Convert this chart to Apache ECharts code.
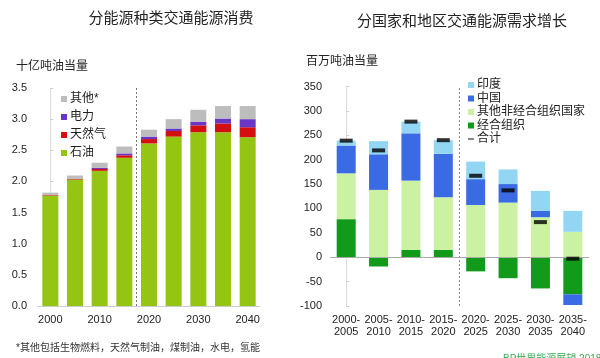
<!DOCTYPE html>
<html>
<head>
<meta charset="utf-8">
<script src="https://cdn.jsdelivr.net/npm/echarts@6/dist/echarts.min.js"></script>
<style>html,body{margin:0;padding:0;background:#fff}#c{width:600px;height:358px}</style>
</head>
<body>
<div id="c"></div>
<script>
// Left chart: transport energy consumption by fuel (billion toe)
const years = ['2000','2005','2010','2015','2020','2025','2030','2035','2040'];
const oil   = [1.77, 2.03, 2.17, 2.38, 2.61, 2.72, 2.79, 2.79, 2.71];
const gas   = [0.01, 0.01, 0.03, 0.04, 0.07, 0.09, 0.11, 0.14, 0.16];
const power = [0.00, 0.005, 0.02, 0.03, 0.04, 0.04, 0.06, 0.08, 0.13];
const other = [0.04, 0.05, 0.08, 0.11, 0.11, 0.15, 0.19, 0.20, 0.21];

// Right chart: transport energy demand growth by region (Mtoe)
const periods = ['2000-\n2005','2005-\n2010','2010-\n2015','2015-\n2020','2020-\n2025','2025-\n2030','2030-\n2035','2035-\n2040'];
const oecd     = [78, -19, 15, 15, -29, -43, -64, -76];
const nonOecd  = [94, 138, 142, 108, 107, 112, 82, 52];
const china    = [57, 73, 97, 89, 53, 38, 13, -22];
const india    = [10, 27, 24, 28, 36, 30, 41, 43];
const total    = [239, 219, 278, 240, 167, 137, 72, -3];

const FONT = '"Liberation Sans", "Noto Sans CJK SC", sans-serif';
const chart = echarts.init(document.getElementById('c'));
const txt = {color:'#222', fontFamily: FONT};

chart.setOption({
  animation: false,
  textStyle: {fontFamily: FONT},
  title: [
    {text:'分能源种类交通能源消费', left:166, top:6, textAlign:'center', textStyle:{...txt, fontSize:15, fontWeight:'normal'}},
    {text:'分国家和地区交通能源需求增长', left:457, top:9, textAlign:'center', textStyle:{...txt, fontSize:15, fontWeight:'normal'}},
    {text:'十亿吨油当量', left:11, top:56, textStyle:{...txt, fontSize:12, fontWeight:'normal'}},
    {text:'百万吨油当量', left:301, top:51, textStyle:{...txt, fontSize:12, fontWeight:'normal'}},
    {text:'*其他包括生物燃料，天然气制油，煤制油，水电，氢能', left:11, top:338, textStyle:{...txt, fontSize:10, fontWeight:'normal', color:'#333'}},
    {text:'BP世界能源展望 2018年版', left:498, top:349, textStyle:{fontFamily:FONT, fontSize:10, fontWeight:'normal', color:'#3aaa55'}}
  ],
  legend: [
    {orient:'vertical', left:56, top:88, itemWidth:6, itemHeight:6, itemGap:6,
     icon:'rect', data:['其他*','电力','天然气','石油'],
     textStyle:{...txt, fontSize:12, padding:[0,0,0,-2]}},
    {orient:'vertical', left:463, top:74, itemWidth:6, itemHeight:6, itemGap:1.5,
     data:[{name:'印度',icon:'rect'},{name:'中国',icon:'rect'},{name:'其他非经合组织国家',icon:'rect'},{name:'经合组织',icon:'rect'},{name:'合计',icon:'path://M0,4H10V6H0Z'}],
     textStyle:{...txt, fontSize:12, padding:[0,0,0,-2]}}
  ],
  grid: [
    {left:38, top:88, width:222, height:218},
    {left:330, top:86.5, width:259, height:219.5}
  ],
  xAxis: [
    {type:'category', gridIndex:0, data:years,
     axisLine:{lineStyle:{color:'#cccccc'}}, axisTick:{show:false},
     axisLabel:{interval:1, color:'#222', fontSize:11, margin:8}},
    {type:'value', gridIndex:0, min:-0.5, max:8.5, show:false},
    {type:'category', gridIndex:1, data:periods, position:'bottom',
     axisLine:{show:false, onZero:false}, axisTick:{show:false},
     axisLabel:{interval:0, hideOverlap:false, color:'#222', fontSize:11, margin:8, lineHeight:12}},
    {type:'value', gridIndex:1, min:-0.5, max:7.5, show:false}
  ],
  yAxis: [
    {type:'value', gridIndex:0, min:0, max:3.5, interval:0.5,
     axisLine:{show:true, lineStyle:{color:'#dddddd'}},
     axisTick:{show:true, inside:true, length:3, lineStyle:{color:'#cccccc'}},
     splitLine:{show:false},
     axisLabel:{color:'#222', fontSize:11, margin:11, formatter:v=>v.toFixed(1)}},
    {type:'value', gridIndex:1, min:-100, max:350, interval:50,
     axisLine:{show:true, lineStyle:{color:'#dddddd'}},
     axisTick:{show:true, inside:true, length:3, lineStyle:{color:'#cccccc'}},
     splitLine:{show:false},
     axisLabel:{color:'#222', fontSize:11, margin:8}}
  ],
  series: [
    {name:'石油', type:'bar', stack:'L', xAxisIndex:0, yAxisIndex:0, data:oil, barWidth:16, itemStyle:{color:'#95c513'}},
    {name:'天然气', type:'bar', stack:'L', xAxisIndex:0, yAxisIndex:0, data:gas, barWidth:16, itemStyle:{color:'#d30f0f'}},
    {name:'电力', type:'bar', stack:'L', xAxisIndex:0, yAxisIndex:0, data:power, barWidth:16, itemStyle:{color:'#6a36c6'}},
    {name:'其他*', type:'bar', stack:'L', xAxisIndex:0, yAxisIndex:0, data:other, barWidth:16, itemStyle:{color:'#bdbdbd'}},
    {name:'guideL', type:'line', xAxisIndex:1, yAxisIndex:0, data:[], silent:true,
     markLine:{symbol:['none','none'], silent:true, label:{show:false},
       lineStyle:{color:'#777', type:[2,2], width:1},
       data:[{xAxis:3.5}]}},

    {name:'经合组织', type:'bar', stack:'R', xAxisIndex:2, yAxisIndex:1, data:oecd, barWidth:19, itemStyle:{color:'#129a1a'}},
    {name:'其他非经合组织国家', type:'bar', stack:'R', xAxisIndex:2, yAxisIndex:1, data:nonOecd, barWidth:19, itemStyle:{color:'#caf2a2'}},
    {name:'中国', type:'bar', stack:'R', xAxisIndex:2, yAxisIndex:1, data:china, barWidth:19, itemStyle:{color:'#3a6be2'}},
    {name:'印度', type:'bar', stack:'R', xAxisIndex:2, yAxisIndex:1, data:india, barWidth:19, itemStyle:{color:'#93d6f3'}},
    {name:'合计', type:'scatter', xAxisIndex:2, yAxisIndex:1, data:total, symbol:'rect', symbolSize:[13,4], z:5, itemStyle:{color:'#000'}},
    {name:'guideR', type:'line', xAxisIndex:3, yAxisIndex:1, data:[], silent:true,
     markLine:{symbol:['none','none'], silent:true, label:{show:false},
       data:[
         {xAxis:3.5, lineStyle:{color:'#888', type:[2,2], width:1}},
         {yAxis:0, lineStyle:{color:'#aaaaaa', type:'solid', width:1}}
       ]}}
  ]
});
</script>
</body>
</html>
